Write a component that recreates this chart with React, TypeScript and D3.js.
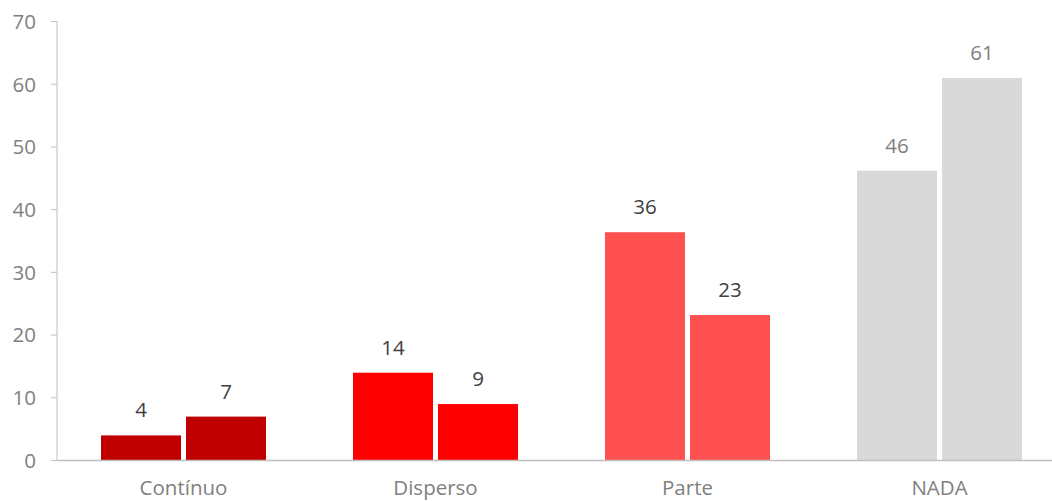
import React from "react";
import * as d3 from "d3";

const categories = ["Contínuo", "Disperso", "Parte", "NADA"];
const series1 = [4, 14, 36.4, 46.2];
const series2 = [7, 9, 23.2, 61];
const barColors = ["#C00000", "#FF0000", "#FF5050", "#D9D9D9"];
const labelColors = ["#404040", "#404040", "#404040", "#808080"];
const yTicks = [0, 10, 20, 30, 40, 50, 60, 70];

const W = 1052;
const H = 501;
const axisX = 57;
const baseY = 460.5;
const topY = 21.5;

export default function App() {
  const x = d3.scaleBand<string>().domain(categories).range([57.5, 57.5 + 252 * 4]).padding(0);
  const y = d3.scaleLinear().domain([0, 70]).range([baseY, topY]);
  const fmt = d3.format(".0f");
  const barW = 80;
  const gap = 5;
  const font = "'Open Sans', sans-serif";
  const fs = 20.5;

  return (
    <svg width={W} height={H} style={{ position: "absolute", left: 0, top: 0, background: "#fff" }}>
      <line x1={axisX} x2={axisX} y1={topY} y2={baseY} stroke="#BFBFBF" strokeWidth={1} />
      {yTicks.map((t) => (
        <g key={t}>
          <line x1={axisX - 6} x2={axisX} y1={y(t)} y2={y(t)} stroke="#BFBFBF" strokeWidth={1} />
          <text x={36} y={y(t)} dy="0.36em" textAnchor="end" fontSize={fs} fill="#808080" fontFamily={font}>
            {t}
          </text>
        </g>
      ))}
      {categories.map((c, i) => {
        const cx = (x(c) as number) + x.bandwidth() / 2;
        const x1 = cx - gap / 2 - barW;
        const x2 = cx + gap / 2;
        return (
          <g key={c}>
            <rect x={x1} y={y(series1[i])} width={barW} height={baseY - y(series1[i])} fill={barColors[i]} />
            <rect x={x2} y={y(series2[i])} width={barW} height={baseY - y(series2[i])} fill={barColors[i]} />
            <text x={x1 + barW / 2} y={y(series1[i]) - 18} textAnchor="middle" fontSize={fs} fill={labelColors[i]} fontFamily={font}>
              {fmt(series1[i])}
            </text>
            <text x={x2 + barW / 2} y={y(series2[i]) - 18} textAnchor="middle" fontSize={fs} fill={labelColors[i]} fontFamily={font}>
              {fmt(series2[i])}
            </text>
            <text x={cx} y={494.5} textAnchor="middle" fontSize={fs} fill="#808080" fontFamily={font}>
              {c}
            </text>
          </g>
        );
      })}
      <line x1={axisX} x2={W} y1={baseY} y2={baseY} stroke="#BFBFBF" strokeWidth={1.5} />
    </svg>
  );
}
